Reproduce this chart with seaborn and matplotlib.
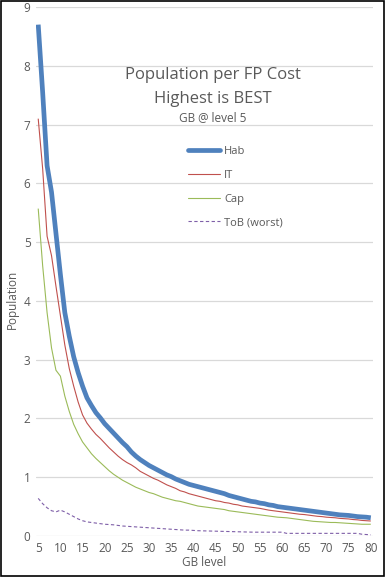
import numpy as np
import pandas as pd
import matplotlib
matplotlib.use("Agg")
import matplotlib.pyplot as plt
import seaborn as sns
from matplotlib.lines import Line2D

levels = list(range(5, 81))

hab = [8.70, 7.55, 6.30, 5.85, 5.15, 4.45, 3.80, 3.40, 3.05, 2.78,
       2.55, 2.35, 2.22, 2.10, 2.01, 1.91, 1.83, 1.75, 1.67, 1.59,
       1.52, 1.43, 1.36, 1.30, 1.25, 1.20, 1.16, 1.12, 1.08, 1.04,
       1.01, 0.97, 0.94, 0.91, 0.88, 0.86, 0.84, 0.82, 0.80, 0.78,
       0.76, 0.74, 0.72, 0.69, 0.67, 0.65, 0.63, 0.61, 0.59, 0.58,
       0.56, 0.55, 0.53, 0.52, 0.50, 0.49, 0.48, 0.47, 0.46, 0.45,
       0.44, 0.43, 0.42, 0.41, 0.40, 0.39, 0.38, 0.37, 0.36, 0.355,
       0.35, 0.34, 0.33, 0.325, 0.32, 0.31]

it = [7.10, 6.25, 5.10, 4.77, 4.25, 3.75, 3.25, 2.85, 2.55, 2.28,
      2.06, 1.92, 1.82, 1.73, 1.66, 1.58, 1.50, 1.43, 1.36, 1.30,
      1.25, 1.21, 1.16, 1.10, 1.06, 1.02, 0.98, 0.95, 0.91, 0.87,
      0.84, 0.81, 0.77, 0.75, 0.72, 0.70, 0.68, 0.66, 0.64, 0.62,
      0.60, 0.59, 0.57, 0.56, 0.54, 0.53, 0.51, 0.50, 0.49, 0.48,
      0.47, 0.455, 0.44, 0.43, 0.42, 0.41, 0.40, 0.39, 0.38, 0.37,
      0.365, 0.355, 0.345, 0.335, 0.33, 0.32, 0.315, 0.31, 0.30, 0.295,
      0.29, 0.28, 0.275, 0.265, 0.26, 0.255]

cap = [5.57, 4.60, 3.80, 3.20, 2.82, 2.72, 2.38, 2.12, 1.90, 1.74,
       1.60, 1.50, 1.40, 1.32, 1.25, 1.18, 1.11, 1.05, 1.00, 0.95,
       0.91, 0.87, 0.83, 0.80, 0.77, 0.74, 0.72, 0.69, 0.66, 0.64,
       0.62, 0.60, 0.59, 0.57, 0.55, 0.53, 0.51, 0.50, 0.49, 0.48,
       0.47, 0.46, 0.45, 0.43, 0.42, 0.41, 0.40, 0.39, 0.38, 0.37,
       0.36, 0.35, 0.34, 0.33, 0.32, 0.315, 0.31, 0.30, 0.29, 0.28,
       0.27, 0.26, 0.25, 0.245, 0.24, 0.235, 0.23, 0.23, 0.225, 0.22,
       0.215, 0.21, 0.205, 0.20, 0.20, 0.20]

tob = [0.64, 0.55, 0.48, 0.43, 0.41, 0.44, 0.41, 0.37, 0.33, 0.29,
       0.26, 0.24, 0.23, 0.22, 0.21, 0.20, 0.195, 0.19, 0.18, 0.17,
       0.165, 0.16, 0.155, 0.15, 0.145, 0.14, 0.135, 0.13, 0.125, 0.12,
       0.115, 0.11, 0.105, 0.10, 0.10, 0.095, 0.09, 0.088, 0.086, 0.084,
       0.082, 0.08, 0.078, 0.076, 0.074, 0.072, 0.07, 0.068, 0.066, 0.065,
       0.065, 0.065, 0.065, 0.065, 0.065, 0.065, 0.045, 0.045, 0.045, 0.045,
       0.045, 0.045, 0.045, 0.045, 0.045, 0.045, 0.045, 0.045, 0.045, 0.045,
       0.045, 0.045, 0.045, 0.03, 0.025, 0.02]

series_names = ["Hab", "IT", "Cap", "ToB (worst)"]
series_values = [hab, it, cap, tob]
colors = ["#4F81BD", "#C0504D", "#9BBB59", "#7F5FA8"]
widths = [3.4, 0.8, 0.8, 0.8]
dashes = [(1, 0), (1, 0), (1, 0), (3, 2.2)]
x_ticks = list(range(5, 81, 5))
y_ticks = list(range(0, 10))

df = pd.DataFrame({"level": levels * len(series_names),
                   "value": sum(series_values, []),
                   "series": sum([[n] * len(levels) for n in series_names], [])})

sns.set_theme(style="white")
plt.rcParams['font.family'] = ['Open Sans', 'DejaVu Sans']

fig = plt.figure(figsize=(3.85, 5.77), dpi=100)
ax = fig.add_axes([36 / 385, 1 - 536 / 577, 337 / 385, 529 / 577])

sns.lineplot(data=df, x="level", y="value", hue="series", style="series",
             size="series", sizes=dict(zip(series_names, widths)),
             palette=dict(zip(series_names, colors)),
             dashes=dict(zip(series_names, dashes)),
             legend=False, ax=ax)

ax.set_xlim(4.5, 80.5)
ax.set_ylim(0, 9)
ax.set_xticks(x_ticks)
ax.set_yticks(y_ticks)
ax.yaxis.grid(True, color="#D9D9D9", linewidth=0.9)
ax.xaxis.grid(False)
for s in ax.spines.values():
    s.set_visible(False)
ax.tick_params(axis="both", length=0, labelsize=8.5, colors="#595959", pad=4)
ax.set_xlabel("GB level", fontsize=8.5, color="#595959", labelpad=1)
ax.set_ylabel("")
ax.set_axisbelow(True)

fig.text(12 / 385, 1 - 299 / 577, "Population", rotation=90, ha="center", va="center",
         fontsize=8.5, color="#595959")

fig.text(213 / 385, 1 - 75 / 577, "Population per FP Cost", ha="center", va="center",
         fontsize=12, color="#595959")
fig.text(213 / 385, 1 - 99 / 577, "Highest is BEST", ha="center", va="center",
         fontsize=12, color="#595959")
fig.text(213 / 385, 1 - 118 / 577, "GB @ level 5", ha="center", va="center",
         fontsize=8.5, color="#595959")

handles = [Line2D([0], [0], color=c, lw=w, linestyle=(0, d) if d != (1, 0) else "-")
           for c, w, d in zip(colors, widths, dashes)]
leg = ax.legend(handles, series_names, loc="upper left",
                bbox_to_anchor=((178 - 36) / 337, (536 - 136) / 529),
                frameon=False, fontsize=8, labelcolor="#595959",
                handlelength=2.9, handletextpad=0.35, labelspacing=1.15)

fig.patches.append(plt.Rectangle((0.0015, 0.001), 0.997, 0.997, transform=fig.transFigure,
                                 fill=False, edgecolor="black", linewidth=1.2))

fig.savefig("out.png", dpi=100, facecolor="white")
